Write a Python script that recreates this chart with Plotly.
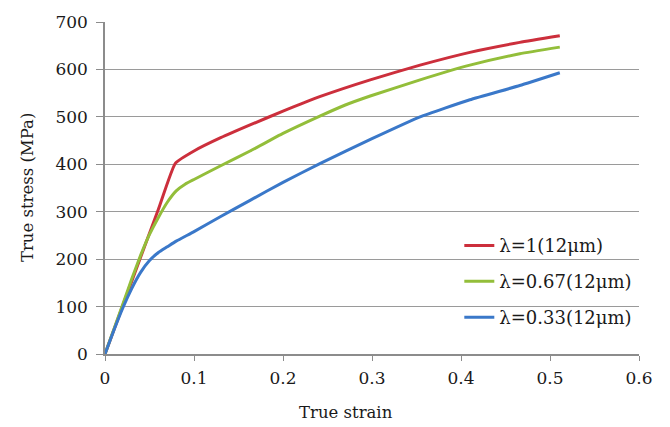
import plotly.graph_objects as go

# True stress-strain curves for three aspect ratios (12 um)
strain_r = [0, 0.02, 0.04, 0.06, 0.079, 0.1, 0.13, 0.163, 0.2, 0.242, 0.298, 0.354, 0.41, 0.466, 0.511]
stress_r = [0, 102, 204, 305, 402, 428, 456, 483, 512, 543, 578, 609, 636, 657, 671]

strain_g = [0, 0.01, 0.02, 0.03, 0.04, 0.05, 0.06, 0.07, 0.08, 0.09, 0.1, 0.13, 0.163, 0.2, 0.242, 0.27, 0.298, 0.354, 0.41, 0.466, 0.511]
stress_g = [0, 52, 105, 158, 208, 252, 288, 320, 344, 358, 368, 397, 428, 465, 502, 525, 544, 578, 609, 633, 647]

strain_b = [0, 0.01, 0.02, 0.03, 0.04, 0.05, 0.06, 0.07, 0.08, 0.1, 0.13, 0.163, 0.2, 0.242, 0.3, 0.354, 0.41, 0.466, 0.511]
stress_b = [0, 50, 97, 138, 172, 197, 214, 226, 238, 258, 290, 324, 362, 402, 454, 500, 536, 566, 593]

names = ["λ=1(12μm)", "λ=0.67(12μm)", "λ=0.33(12μm)"]
colors = ["#CC2F3C", "#93BE3A", "#3A78C9"]

x_ticks = [0, 0.1, 0.2, 0.3, 0.4, 0.5, 0.6]
x_labels = ["0", "0.1", "0.2", "0.3", "0.4", "0.5", "0.6"]
y_ticks = [0, 100, 200, 300, 400, 500, 600, 700]

FONT = "DejaVu Serif"
INK = "#1a1a1a"

fig = go.Figure()
series = [(strain_r, stress_r), (strain_g, stress_g), (strain_b, stress_b)]
for i, (xs, ys) in enumerate(series):
    fig.add_trace(go.Scatter(
        x=xs, y=ys, mode="lines", name=names[i],
        line=dict(color=colors[i], width=3, shape="spline", smoothing=0.4),
        legendgroup=f"g{i}",
    ))

fig.update_layout(
    width=670, height=427,
    margin=dict(l=105, r=31, t=16, b=73),
    paper_bgcolor="white", plot_bgcolor="white",
    font=dict(family=FONT, size=17, color=INK),
    showlegend=True,
    legend=dict(
        x=0.6635, y=0.382, xanchor="left", yanchor="top",
        bgcolor="rgba(0,0,0,0)", borderwidth=0,
        font=dict(family=FONT, size=18, color=INK),
        tracegroupgap=9.5,
    ),
    xaxis=dict(
        range=[0, 0.6], tickvals=x_ticks, ticktext=x_labels,
        showgrid=False, zeroline=False,
        showline=True, linecolor="#8c8c8c", linewidth=1.5,
        ticks="outside", ticklen=5, tickcolor="#8c8c8c", tickwidth=1,
        ticklabelstandoff=3,
        tickfont=dict(family=FONT, size=17, color=INK),
    ),
    yaxis=dict(
        range=[0, 700], tickvals=y_ticks,
        showgrid=True, gridcolor="#9a9a9a", gridwidth=1,
        zeroline=False,
        showline=True, linecolor="#8c8c8c", linewidth=1.5,
        ticks="outside", ticklen=7, tickcolor="#8c8c8c", tickwidth=1,
        ticklabelstandoff=5,
        tickfont=dict(family=FONT, size=17, color=INK),
    ),
    annotations=[
        dict(text="True strain", xref="paper", yref="paper", x=(346 - 105) / 534, y=-0.175,
             xanchor="center", yanchor="middle", showarrow=False,
             font=dict(family=FONT, size=16.5, color=INK)),
        dict(text="True stress (MPa)", xref="paper", yref="paper", x=-0.146, y=0.5,
             xanchor="center", yanchor="middle", showarrow=False, textangle=-90,
             font=dict(family=FONT, size=16.5, color=INK)),
    ],
)

fig.write_html("out.html")
